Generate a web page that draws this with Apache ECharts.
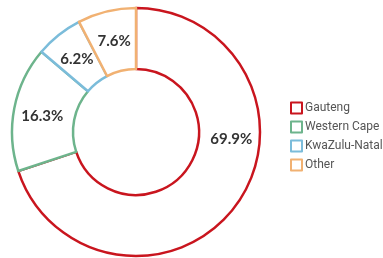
<!DOCTYPE html>
<html><head><meta charset="utf-8">
<script src="https://cdn.jsdelivr.net/npm/echarts@6/dist/echarts.min.js"></script>
<style>html,body{margin:0;padding:0;background:#fff}#c{width:383px;height:258px}</style>
</head><body><div id="c"></div>
<script>
const categories = ['Gauteng', 'Western Cape', 'KwaZulu-Natal', 'Other'];
const values = [69.9, 16.3, 6.2, 7.6];
const colors = ['#c9151e', '#6db48c', '#7bbcda', '#f1b172'];

const chart = echarts.init(document.getElementById('c'), null, {renderer: 'canvas'});
const data = categories.map((n, i) => {
  const d = {
    name: n, value: values[i],
    itemStyle: {color: '#fff', borderColor: colors[i], borderWidth: 2.5}
  };
  if (i === 0) d.label = {offset: [17, -49]};
  return d;
});
chart.setOption({
  animation: false,
  legend: {
    orient: 'vertical', left: 285, top: 96,
    icon: 'rect', itemWidth: 11, itemHeight: 11, itemGap: 5,
    textStyle: {fontFamily: 'Roboto', fontSize: 12, lineHeight: 14, color: '#555', padding: [0,0,0,-2]},
    data: categories.map((n, i) => ({name: n, itemStyle: {color: '#fff', borderColor: colors[i], borderWidth: 2}}))
  },
  series: [{
    type: 'pie',
    center: [136, 132],
    radius: [63, 124],
    startAngle: 90,
    clockwise: true,
    avoidLabelOverlap: false,
    label: {
      position: 'inside',
      offset: [1, 3],
      formatter: p => p.value.toFixed(1) + '%',
      fontFamily: 'Lato', fontWeight: 'bold', fontSize: 15, color: '#333'
    },
    labelLine: {show: false},
    emphasis: {disabled: true},
    data: data
  }]
});
</script></body></html>
